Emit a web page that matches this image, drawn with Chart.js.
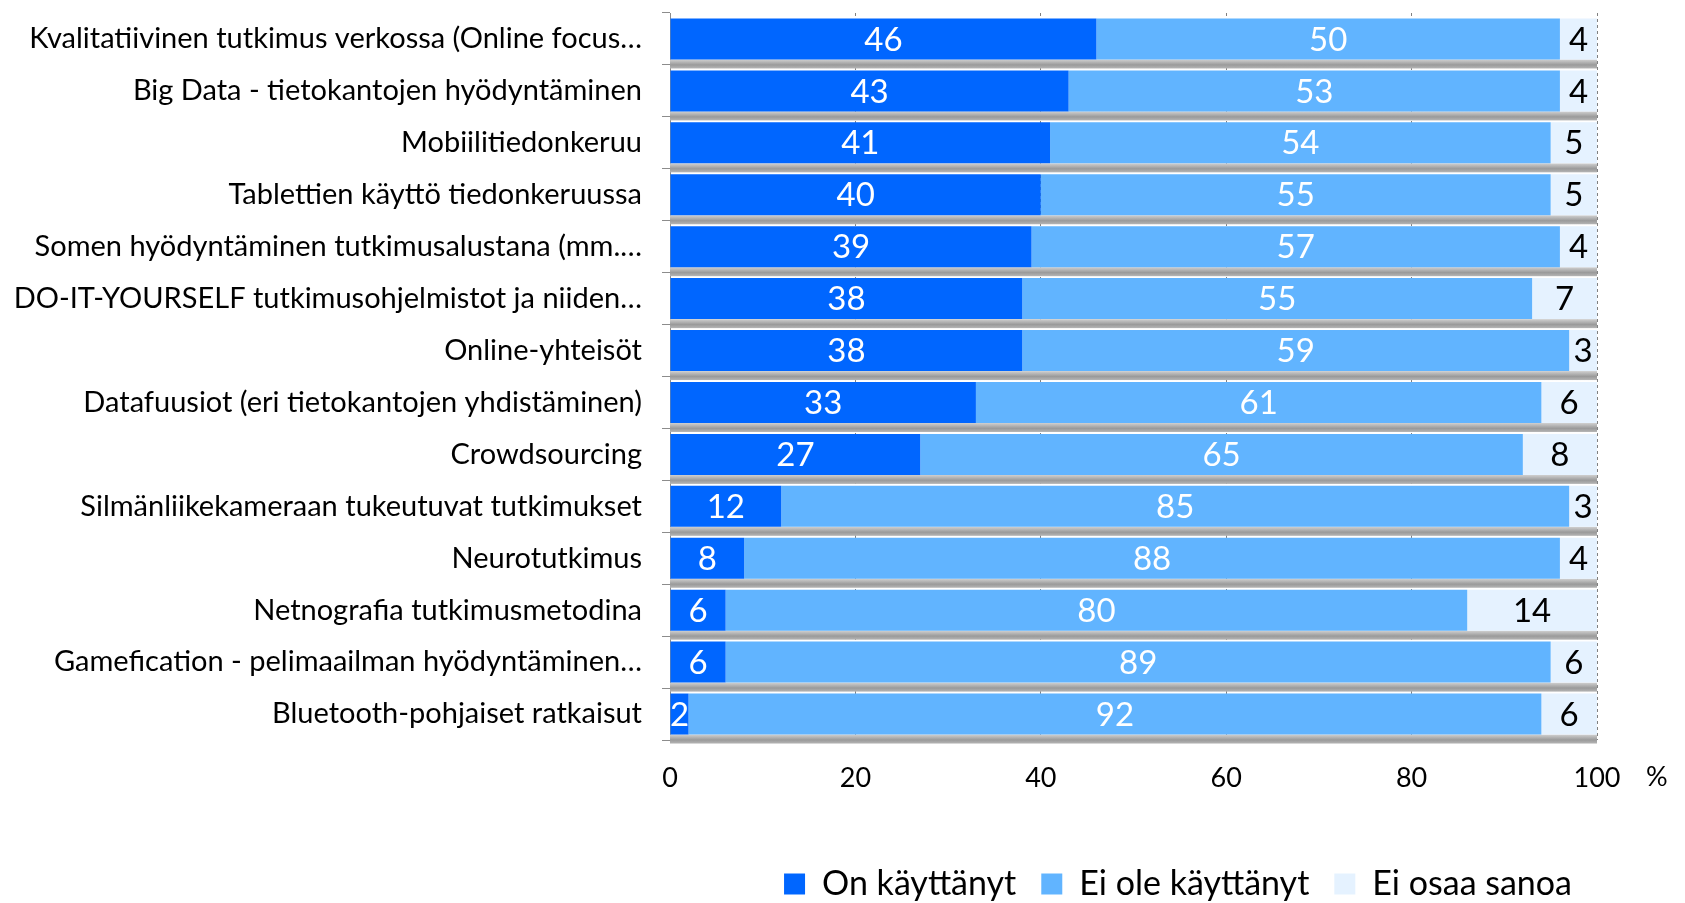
<!DOCTYPE html>
<html>
<head>
<meta charset="utf-8">
<script src="https://cdn.jsdelivr.net/npm/chart.js@4/dist/chart.umd.min.js"></script>
<style>
  html, body { margin: 0; padding: 0; background: #fff; }
  #wrap { width: 1685px; height: 903px; position: relative; }
</style>
</head>
<body>
<div id="wrap"><canvas id="chart"></canvas></div>
<script>
const categories = [
    'Kvalitatiivinen tutkimus verkossa (Online focus…',
    'Big Data - tietokantojen hyödyntäminen',
    'Mobiilitiedonkeruu',
    'Tablettien käyttö tiedonkeruussa',
    'Somen hyödyntäminen tutkimusalustana (mm.…',
    'DO-IT-YOURSELF tutkimusohjelmistot ja niiden…',
    'Online-yhteisöt',
    'Datafuusiot (eri tietokantojen yhdistäminen)',
    'Crowdsourcing',
    'Silmänliikekameraan tukeutuvat tutkimukset',
    'Neurotutkimus',
    'Netnografia tutkimusmetodina',
    'Gamefication - pelimaailman hyödyntäminen…',
    'Bluetooth-pohjaiset ratkaisut'
]
const onKayttanyt = [46, 43, 41, 40, 39, 38, 38, 33, 27, 12, 8, 6, 6, 2]
const eiOleKayttanyt = [50, 53, 54, 55, 57, 55, 59, 61, 65, 85, 88, 80, 89, 92]
const eiOsaaSanoa = [4, 4, 5, 5, 4, 7, 3, 6, 8, 3, 4, 14, 6, 6]
const xTicks = [0, 20, 40, 60, 80, 100]

const FONT = 'Lato, "Open Sans", sans-serif'

// gray band under each row, like the 3D floor in the original
const shadowPlugin = {
    id: 'rowShadow',
    beforeDatasetsDraw(chart) {
        const ctx = chart.ctx
        const area = chart.chartArea
        const meta = chart.getDatasetMeta(0)
        ctx.save()
        meta.data.forEach(function(bar) {
            const top = bar.y + bar.height / 2
            const h = 9
            const g = ctx.createLinearGradient(0, top, 0, top + h)
            g.addColorStop(0, '#d0d0d0')
            g.addColorStop(0.6, '#9a9a9a')
            g.addColorStop(1, '#b5b5b5')
            ctx.fillStyle = g
            ctx.fillRect(area.left, top, area.right - area.left, h)
        })
        ctx.restore()
    }
}

const valueLabels = {
    id: 'valueLabels',
    afterDatasetsDraw(chart) {
        const ctx = chart.ctx
        ctx.save()
        ctx.font = '33px ' + FONT
        ctx.textAlign = 'center'
        ctx.textBaseline = 'middle'
        chart.data.datasets.forEach(function(ds, di) {
            const meta = chart.getDatasetMeta(di)
            ctx.fillStyle = di === 2 ? '#000' : '#fff'
            meta.data.forEach(function(bar, i) {
                const right = Math.min(bar.x, chart.chartArea.right)
                const cx = (bar.base + right) / 2
                ctx.fillText(String(ds.data[i]), cx, bar.y + 1)
            })
        })
        ctx.restore()
    }
}

const percentSign = {
    id: 'percentSign',
    afterDraw(chart) {
        const ctx = chart.ctx
        const xs = chart.scales.x
        ctx.save()
        ctx.font = '27px ' + FONT
        ctx.fillStyle = '#000'
        ctx.textBaseline = 'middle'
        ctx.fillText('%', 1646, xs.top + 37)
        ctx.restore()
    }
}

const ctx = document.getElementById('chart').getContext('2d')
new Chart(ctx, {
    type: 'bar',
    data: {
        labels: categories,
        datasets: [
            { label: 'On käyttänyt', data: onKayttanyt, backgroundColor: '#0066ff' },
            { label: 'Ei ole käyttänyt', data: eiOleKayttanyt, backgroundColor: '#61b4ff' },
            { label: 'Ei osaa sanoa', data: eiOsaaSanoa, backgroundColor: '#e5f2ff' }
        ]
    },
    options: {
        indexAxis: 'y',
        responsive: true,
        maintainAspectRatio: false,
        animation: false,
        layout: { padding: { top: 13, right: 88, left: 0, bottom: -8 } },
        datasets: {
            bar: { barPercentage: 0.79, categoryPercentage: 1, borderWidth: 0 }
        },
        scales: {
            x: {
                stacked: true,
                min: 0,
                max: 100,
                afterBuildTicks(scale) {
                    scale.ticks = xTicks.map(function(v) { return { value: v } })
                },
                afterFit(scale) {
                    scale.height = 102
                    scale.paddingLeft = 0
                    scale.paddingRight = 0
                },
                grid: {
                    color: '#808080',
                    lineWidth: 1,
                    drawTicks: false
                },
                border: { display: true, color: 'rgba(0,0,0,0)', dash: [3, 3] },
                ticks: {
                    color: '#000',
                    padding: 22,
                    font: { family: FONT, size: 27 }
                }
            },
            y: {
                stacked: true,
                afterFit(scale) {
                    scale.width = 670
                    scale.paddingTop = 0
                    scale.paddingBottom = 0
                },
                grid: {
                    offset: true,
                    drawOnChartArea: false,
                    tickLength: 8,
                    color: '#8c8c8c'
                },
                border: { display: true, color: '#8c8c8c', width: 1 },
                ticks: {
                    color: '#000',
                    padding: 20,
                    autoSkip: false,
                    font: { family: FONT, size: 29 }
                }
            }
        },
        plugins: {
            legend: {
                position: 'bottom',
                align: 'end',
                labels: {
                    color: '#000',
                    boxWidth: 21,
                    boxHeight: 21,
                    padding: 25,
                    font: { family: FONT, size: 34 }
                }
            },
            tooltip: { enabled: false }
        }
    },
    plugins: [shadowPlugin, valueLabels, percentSign]
})
</script>
</body>
</html>
